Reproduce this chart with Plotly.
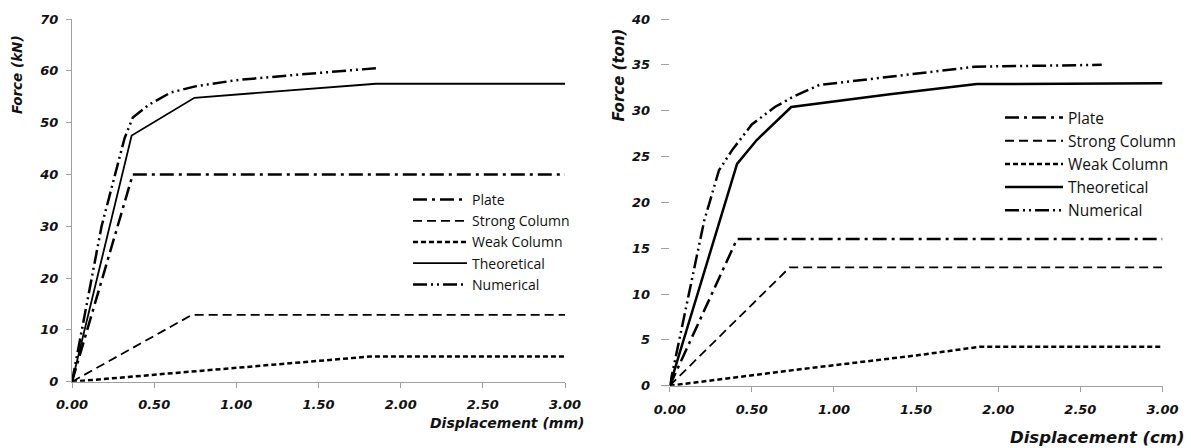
import plotly.graph_objects as go

# ---------------- data: left panel (Force kN vs Displacement mm) ----------------
L_plate_x = [0, 0.37, 3.0]
L_plate_y = [0, 40, 40]
L_strong_x = [0, 0.73, 3.0]
L_strong_y = [0, 12.9, 12.9]
L_weak_x = [0, 0.75, 1.81, 3.0]
L_weak_y = [0, 2.0, 4.85, 4.85]
L_theo_x = [0, 0.363, 0.745, 1.85, 3.0]
L_theo_y = [0, 47.5, 54.8, 57.5, 57.5]
L_num_x = [0, 0.18, 0.32, 0.37, 0.47, 0.6, 0.75, 1.0, 1.39, 1.85]
L_num_y = [0, 30, 47, 51, 53.5, 55.8, 57, 58.2, 59.3, 60.5]

# ---------------- data: right panel (Force ton vs Displacement cm) ----------------
R_plate_x = [0, 0.41, 3.0]
R_plate_y = [0, 16.0, 16.0]
R_strong_x = [0, 0.73, 3.0]
R_strong_y = [0, 12.9, 12.9]
R_weak_x = [0, 0.75, 1.5, 1.89, 3.0]
R_weak_y = [0, 1.7, 3.3, 4.25, 4.25]
R_theo_x = [0, 0.41, 0.53, 0.74, 1.34, 1.87, 3.0]
R_theo_y = [0, 24.2, 26.8, 30.4, 31.8, 32.9, 33.0]
R_num_x = [0, 0.21, 0.3, 0.38, 0.5, 0.64, 0.75, 0.91, 1.34, 1.86, 2.63]
R_num_y = [0, 18, 23.5, 25.7, 28.5, 30.4, 31.5, 32.8, 33.7, 34.8, 35.0]

names = ["Plate", "Strong Column", "Weak Column", "Theoretical", "Numerical"]
L_y_ticks = [0, 10, 20, 30, 40, 50, 60, 70]
R_y_ticks = [0, 5, 10, 15, 20, 25, 30, 35, 40]
x_ticks = [0.0, 0.5, 1.0, 1.5, 2.0, 2.5, 3.0]
x_tick_text = ["0.00", "0.50", "1.00", "1.50", "2.00", "2.50", "3.00"]

W, H = 1191, 448
AX = "#a0a0a0"
TICKFONT = dict(family="DejaVu Sans", size=13, color="#111", weight="bold", style="italic")

styles = {
    "Plate": dict(dash="14px,5px,3px,5px", width=2.5),
    "Strong Column": dict(dash="9px,5px", width=1.8),
    "Weak Column": dict(dash="5px,3px", width=2.5),
    "Theoretical": dict(dash="solid", width=2),
    "Numerical": dict(dash="14px,4px,2px,4px,2px,4px", width=2.5),
}

fig = go.Figure()

left = [(L_plate_x, L_plate_y), (L_strong_x, L_strong_y), (L_weak_x, L_weak_y),
        (L_theo_x, L_theo_y), (L_num_x, L_num_y)]
right = [(R_plate_x, R_plate_y), (R_strong_x, R_strong_y), (R_weak_x, R_weak_y),
         (R_theo_x, R_theo_y), (R_num_x, R_num_y)]

for name, (xs, ys) in zip(names, left):
    st = dict(styles[name])
    if name == "Theoretical":
        st["width"] = 1.8
    fig.add_trace(go.Scatter(x=xs, y=ys, mode="lines", name=name,
                             line=dict(color="black", **st),
                             xaxis="x", yaxis="y", legend="legend"))
for name, (xs, ys) in zip(names, right):
    st = dict(styles[name])
    if name == "Theoretical":
        st["width"] = 2.5
    fig.add_trace(go.Scatter(x=xs, y=ys, mode="lines", name=name,
                             line=dict(color="black", **st),
                             xaxis="x2", yaxis="y2", legend="legend2"))

fig.update_layout(
    width=W, height=H,
    margin=dict(l=0, r=0, t=0, b=0, autoexpand=False),
    paper_bgcolor="white", plot_bgcolor="white",
    xaxis=dict(domain=[72 / W, 565 / W], range=[0, 3], tickvals=x_ticks, ticktext=x_tick_text,
               showline=True, linecolor=AX, linewidth=1, ticks="outside", ticklen=5,
               tickcolor=AX, showgrid=False, zeroline=False, tickfont=TICKFONT,
               ticklabelstandoff=6, anchor="y", automargin=False),
    yaxis=dict(domain=[(H - 381.7) / H, (H - 19) / H], range=[0, 70], tickvals=L_y_ticks,
               showline=True, linecolor=AX, linewidth=1, ticks="outside", ticklen=5,
               tickcolor=AX, showgrid=False, zeroline=False, tickfont=TICKFONT,
               ticklabelstandoff=5, anchor="x", automargin=False),
    xaxis2=dict(domain=[669.7 / W, 1162.5 / W], range=[0, 3], tickvals=x_ticks, ticktext=x_tick_text,
                showline=True, linecolor=AX, linewidth=1, ticks="outside", ticklen=5,
                tickcolor=AX, showgrid=False, zeroline=False, tickfont=TICKFONT,
                ticklabelstandoff=7, anchor="y2", automargin=False),
    yaxis2=dict(domain=[(H - 385.7) / H, (H - 19) / H], range=[0, 40], tickvals=R_y_ticks,
                showline=False, ticks="outside", ticklen=8, tickcolor=AX,
                showgrid=False, zeroline=False, tickfont=TICKFONT,
                ticklabelstandoff=8, anchor="x2", automargin=False),
    legend=dict(x=408 / W, y=(H - 184) / H, xanchor="left", yanchor="top",
                font=dict(family="Open Sans", size=14, color="#111"), itemwidth=54,
                bgcolor="rgba(0,0,0,0)", tracegroupgap=0),
    legend2=dict(x=1000 / W, y=(H - 101) / H, xanchor="left", yanchor="top",
                 font=dict(family="Open Sans", size=15.5, color="#111"), itemwidth=58,
                 bgcolor="rgba(0,0,0,0)", tracegroupgap=0),
    showlegend=True,
)

fig.add_annotation(text="Force (kN)", x=17 / W, y=(H - 75) / H, xref="paper", yref="paper",
                   textangle=-90, showarrow=False, font=dict(TICKFONT, size=13.5),
                   xanchor="center", yanchor="middle")
fig.add_annotation(text="Force (ton)", x=618 / W, y=(H - 75.5) / H, xref="paper", yref="paper",
                   textangle=-90, showarrow=False, font=dict(TICKFONT, size=15),
                   xanchor="center", yanchor="middle")
fig.add_annotation(text="Displacement (mm)", x=586 / W, y=(H - 423) / H, xref="paper", yref="paper",
                   showarrow=False, font=dict(TICKFONT, size=14), xanchor="right", yanchor="middle")
fig.add_annotation(text="Displacement (cm)", x=1187 / W, y=(H - 437) / H, xref="paper", yref="paper",
                   showarrow=False, font=dict(TICKFONT, size=16.5), xanchor="right", yanchor="middle")

# small extension of the right x-axis line to the left of the origin
fig.add_shape(type="line", xref="paper", yref="paper",
              x0=661.7 / W, x1=669.7 / W, y0=(H - 385.7) / H, y1=(H - 385.7) / H,
              line=dict(color=AX, width=1))

fig.write_html("out.html")
